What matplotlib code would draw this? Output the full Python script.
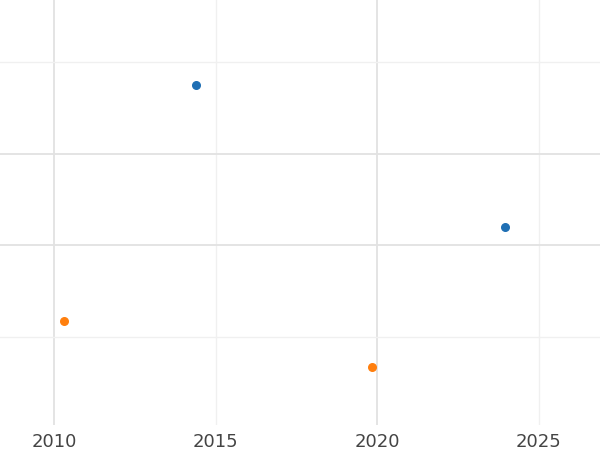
import matplotlib.pyplot as plt
import numpy as np

# Two series of (year, value) points
blue_x = [2014.4, 2023.96]
blue_y = [3.75, 2.2]
orange_x = [2010.31, 2019.85]
orange_y = [1.17, 0.67]

fig = plt.figure(figsize=(6, 4.5), dpi=100)
ax = fig.add_axes([0, 25 / 450, 1, 1 - 25 / 450])

ax.scatter(blue_x, blue_y, color="#1f6fb4", s=30, zorder=3)
ax.scatter(orange_x, orange_y, color="#ff7f0e", s=30, zorder=3)

ax.set_xlim(2008.33, 2026.9)
ax.set_ylim(0.04, 4.68)

ax.set_xticks([2010, 2020])
ax.set_xticks([2015, 2025], minor=True)
ax.set_xticklabels(["2010", "2020"])
ax.set_xticklabels(["2015", "2025"], minor=True)
ax.set_yticks([2, 3])
ax.set_yticks([1, 4], minor=True)
ax.set_yticklabels([])

ax.grid(which="major", color="#e2e2e2", linewidth=1.3)
ax.grid(which="minor", color="#f0f0f0", linewidth=1.0)
ax.set_axisbelow(True)
ax.tick_params(which="both", length=0, labelsize=13, labelcolor="#444444", pad=6)
for s in ax.spines.values():
    s.set_visible(False)

fig.savefig("out.png", dpi=100)
